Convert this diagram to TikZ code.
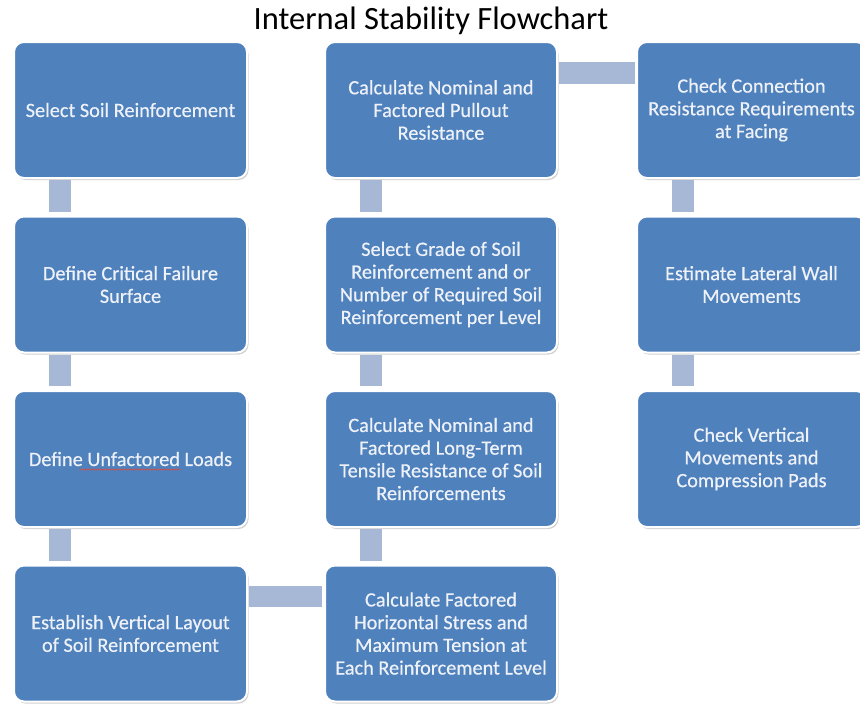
\documentclass[tikz,border=0pt]{standalone}
\usepackage{fontspec}
\setmainfont{Carlito}
\newfontfamily\boxfont[FakeBold=0.5]{Carlito}
\usetikzlibrary{calc,shadows,decorations.pathmorphing}

\definecolor{boxblue}{HTML}{4F81BD}
\definecolor{boxtext}{HTML}{EEF2F8}
\definecolor{linkblue}{HTML}{A7B8D7}
\definecolor{spellred}{HTML}{D0504A}

\tikzset{
  stepbox/.style={
    rectangle, rounded corners=10pt, fill=boxblue, draw=white, line width=2pt,
    minimum height=136pt, text=boxtext, align=center, inner sep=4pt,
    font=\boxfont\fontsize{20.3}{22.7}\selectfont,
    drop shadow={shadow xshift=1.5pt, shadow yshift=-2pt, opacity=0.3, fill=black!60}
  },
  colA/.style={stepbox, minimum width=233pt},
  colB/.style={stepbox, minimum width=232pt},
  colC/.style={stepbox, minimum width=229pt},
  link/.style={fill=linkblue},
  titletext/.style={font=\fontsize{32.5}{36}\selectfont, text=black}
}

\begin{document}
\begin{tikzpicture}[x=1pt,y=-1pt]
  \useasboundingbox (0,0) rectangle (860,705);
  \begin{scope}
  \clip (0,0) rectangle (860,705);

  \node[titletext] (title) at (431,21) {Internal Stability Flowchart};

  % first column
  \node[colA] (a1) at (130.5,110)   {Select Soil Reinforcement};
  \node[colA] (a2) at (130.5,284.5) {Define Critical Failure\\Surface};
  \node[colA] (a3) at (130.5,459)   {Define Unfactored Loads};
  \node[colA] (a4) at (130.5,633.5) {Establish Vertical Layout\\of Soil Reinforcement};

  % second column
  \node[colB] (b4) at (441,633.5) {Calculate Factored\\Horizontal Stress and\\Maximum Tension at\\Each Reinforcement Level};
  \node[colB] (b3) at (441,459)   {Calculate Nominal and\\Factored Long-Term\\Tensile Resistance of Soil\\Reinforcements};
  \node[colB] (b2) at (441,284.5) {Select Grade of Soil\\Reinforcement and or\\Number of Required Soil\\Reinforcement per Level};
  \node[colB] (b1) at (441,110)   {Calculate Nominal and\\Factored Pullout\\Resistance};

  % third column
  \node[colC] (c1) at (751.5,110)   {Check Connection\\Resistance Requirements\\at Facing};
  \node[colC] (c2) at (751.5,284.5) {Estimate Lateral Wall\\Movements};
  \node[colC] (c3) at (751.5,459)   {Check Vertical\\Movements and\\Compression Pads};

  % vertical links
  \foreach \u/\v in {a1/a2, a2/a3, a3/a4, b3/b4, b2/b3, b1/b2, c1/c2, c2/c3}{
    \fill[link] ($(\u.south west)+(36,1)$) rectangle ($(\v.north west)+(58,-4)$);
  }
  % horizontal links
  \fill[link] ($(a4.north east)+(1,21)$) rectangle ($(b4.north west)+(-2,42)$);
  \fill[link] ($(b1.north east)+(1,21)$) rectangle ($(c1.north west)+(-1,43)$);

  % spell-check mark under a word
  \draw[spellred, line width=0.7pt, decorate,
        decoration={snake, amplitude=0.6pt, segment length=3pt}]
    ($(a3.center)+(-51,10.5)$) -- ($(a3.center)+(50,10.5)$);
  \end{scope}
\end{tikzpicture}
\end{document}
